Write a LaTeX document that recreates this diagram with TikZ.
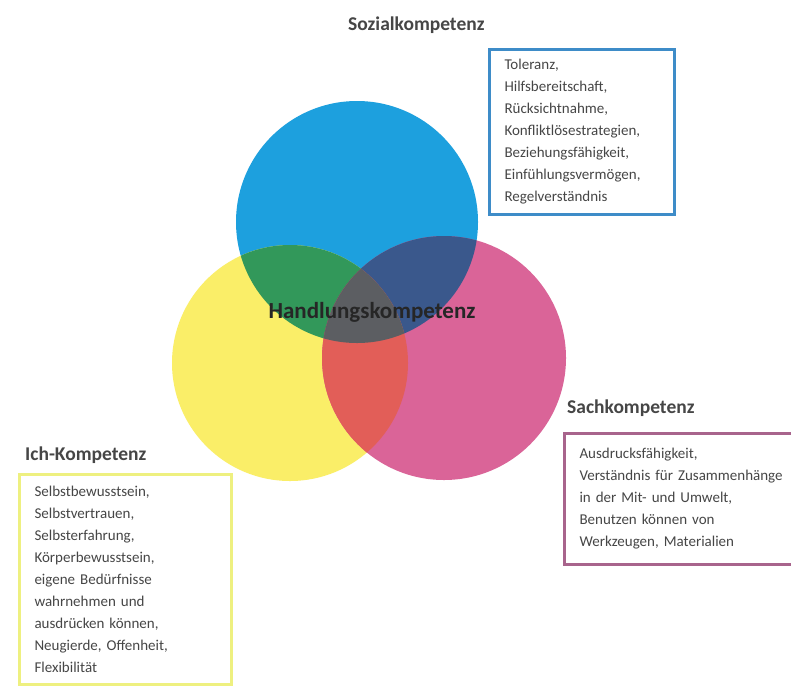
\documentclass[tikz,border=0pt]{standalone}
\usepackage{fontspec}
\setmainfont{Carlito}
\usepackage{tikz}
\usetikzlibrary{positioning}
\definecolor{sozblue}{RGB}{29,160,222}
\definecolor{ichyellow}{RGB}{250,238,104}
\definecolor{sachmag}{RGB}{218,100,152}
\definecolor{mixgreen}{RGB}{50,152,90}
\definecolor{mixnavy}{RGB}{58,88,140}
\definecolor{mixred}{RGB}{226,94,88}
\definecolor{mixcore}{RGB}{92,94,98}
\definecolor{sozline}{RGB}{62,140,200}
\definecolor{ichline}{RGB}{238,240,128}
\definecolor{sachline}{RGB}{168,100,140}
\definecolor{textgray}{RGB}{70,70,70}
\tikzstyle{heading} = [font=\bfseries\fontsize{19.5}{22}\selectfont, text=textgray, inner sep=0pt, anchor=west]
\tikzstyle{listbox} = [draw, rectangle, line width=3pt, align=left, inner xsep=15pt, inner ysep=0pt, anchor=north west, font=\fontsize{15}{22}\selectfont, text=textgray]

\begin{document}
\begin{tikzpicture}[x=1pt, y=-1pt]
        \fill[white] (0,0) rectangle (791,686);
        \useasboundingbox (0,0) rectangle (791,686);
        \coordinate (sozc) at (357,222);
        \coordinate (ichc) at (290,363);
        \coordinate (sachc) at (444,358);
        % three circles
        \fill[sozblue] (sozc) circle[radius=121pt];
        \fill[ichyellow] (ichc) circle[radius=118pt];
        \fill[sachmag] (sachc) circle[radius=122pt];
        % overlaps
        \begin{scope}
            \clip (sozc) circle[radius=121pt];
            \fill[mixgreen] (ichc) circle[radius=118pt];
            \fill[mixnavy] (sachc) circle[radius=122pt];
        \end{scope}
        \begin{scope}
            \clip (ichc) circle[radius=118pt];
            \fill[mixred] (sachc) circle[radius=122pt];
            \clip (sozc) circle[radius=121pt];
            \fill[mixcore] (sachc) circle[radius=122pt];
        \end{scope}
        \node[font=\bfseries\fontsize{23}{26}\selectfont, text=black!85] (handlung) at (372,312) {Handlungskompetenz};
        % headings and lists
        \node[heading] (soz) at (348,25) {Sozialkompetenz};
        \node[listbox, draw=sozline, text width=155pt, minimum height=165pt] (sozbox) at (488,48) {Toleranz,\\Hilfsbereitschaft,\\Rücksichtnahme,\\Konfliktlösestrategien,\\Beziehungsfähigkeit,\\Einfühlungsvermögen,\\Regelverständnis};
        \node[heading] (sach) at (567,408) {Sachkompetenz};
        \node[listbox, draw=sachline, text width=240pt, minimum height=131pt] (sachbox) at (563,432) {Ausdrucksfähigkeit,\\Verständnis für Zusammenhänge\\in der Mit- und Umwelt,\\Benutzen können von\\Werkzeugen, Materialien};
        \node[heading] (ich) at (25,455) {Ich-Kompetenz};
        \node[listbox, draw=ichline, text width=182pt, minimum height=210pt] (ichbox) at (18,473) {Selbstbewusstsein,\\Selbstvertrauen,\\Selbsterfahrung,\\Körperbewusstsein,\\eigene Bedürfnisse\\wahrnehmen und\\ausdrücken können,\\Neugierde, Offenheit,\\Flexibilität};
    \end{tikzpicture}
\end{document}
